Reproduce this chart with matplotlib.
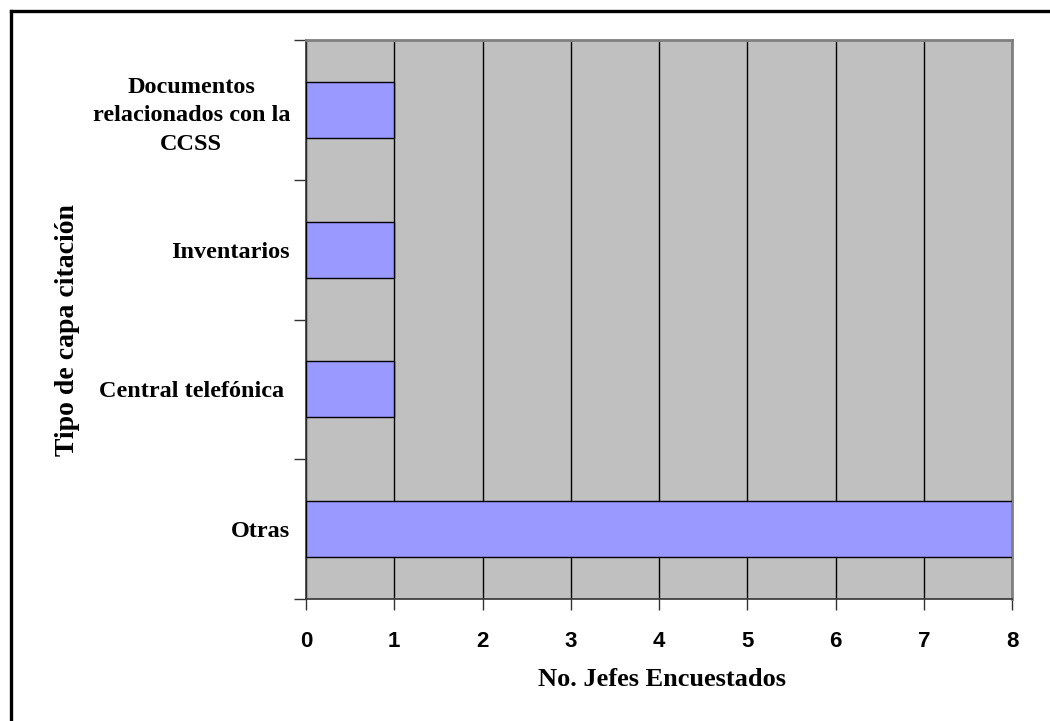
import matplotlib
matplotlib.use("Agg")
import matplotlib.pyplot as plt
from matplotlib.lines import Line2D

categories = ["Documentos\nrelacionados con la\nCCSS", "Inventarios", "Central telefónica ", "Otras"]
values = [1, 1, 1, 8]
xticks = [0, 1, 2, 3, 4, 5, 6, 7, 8]
xlabel = "No. Jefes Encuestados"
ylabel = "Tipo de capa citación"

W, H = 1050, 721
fig = plt.figure(figsize=(W / 100, H / 100), dpi=100)
fig.patch.set_facecolor("white")

L, R, T, B = 306, 1012, 40, 599
ax = fig.add_axes([L / W, 1 - B / H, (R - L) / W, (B - T) / H])
ax.set_facecolor("#C0C0C0")

n = len(categories)
ypos = list(range(n))
ax.barh(ypos, values, height=0.4, color="#9999FF", edgecolor="black", linewidth=1, zorder=3)
ax.set_ylim(n - 0.5, -0.5)
ax.set_xlim(0, 8)

# major ticks at category boundaries, labels on minor ticks
ax.set_yticks([i - 0.5 for i in range(n + 1)])
ax.set_yticklabels([])
ax.set_yticks(ypos, minor=True)
ax.set_yticklabels(categories, minor=True, fontfamily="Liberation Serif",
                   fontweight="bold", fontsize=17.5, linespacing=1.45,
                   multialignment="center")
ax.tick_params(axis="y", which="minor", length=0, pad=11.5)
ax.tick_params(axis="y", which="major", length=9, width=1, color="#333333", direction="out")

ax.set_xticks(xticks)
ax.set_xticklabels([str(v) for v in xticks], fontfamily="Liberation Sans",
                   fontweight="bold", fontsize=16)
ax.tick_params(axis="x", length=8, width=1, color="#333333", direction="out", pad=15)

ax.grid(axis="x", color="black", linewidth=1, zorder=1)
ax.set_axisbelow(True)

for s in ["left", "bottom"]:
    ax.spines[s].set_color("#333333")
    ax.spines[s].set_linewidth(1.2)
for s in ["top", "right"]:
    ax.spines[s].set_color("#808080")
    ax.spines[s].set_linewidth(2)

fig.text(((L + R) / 2 + 3) / W, 1 - 680 / H, xlabel,
         fontfamily="Liberation Serif", fontweight="bold", fontsize=19,
         ha="center", va="center")
fig.text(67.5 / W, 1 - 330 / H, ylabel, rotation=90,
         fontfamily="Liberation Serif", fontweight="bold", fontsize=20,
         ha="center", va="center")

# outer frame (only left and top visible)
fig.add_artist(Line2D([11 / W, 11 / W], [0, 1 - 11 / H], transform=fig.transFigure,
                      color="black", linewidth=2.4, solid_capstyle="projecting"))
fig.add_artist(Line2D([11 / W, 1], [1 - 11 / H, 1 - 11 / H], transform=fig.transFigure,
                      color="black", linewidth=2.4, solid_capstyle="projecting"))

fig.savefig("out.png", dpi=100)
